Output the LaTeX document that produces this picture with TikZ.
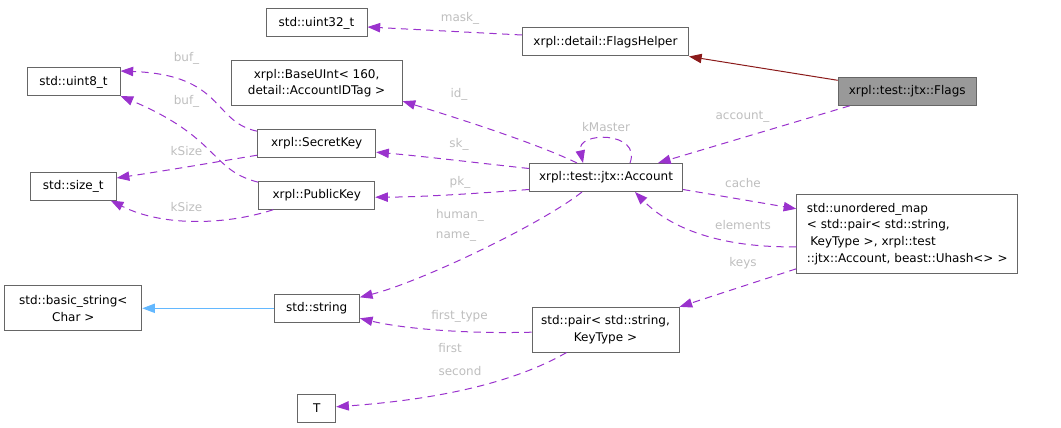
\documentclass[tikz,border=0pt]{standalone}
\usepackage{fontspec}
\setmainfont{DejaVu Sans}
\usetikzlibrary{arrows.meta,calc}
\definecolor{edgepurple}{HTML}{9A32CD}
\definecolor{inhred}{HTML}{8B1A1A}
\definecolor{inhblue}{HTML}{63B8FF}
\definecolor{boxgray}{HTML}{666666}
\definecolor{lblgray}{HTML}{BEBEBE}
\definecolor{flagsfill}{HTML}{999999}
\begin{document}
\begin{tikzpicture}[x=0.75pt,y=-0.75pt,
  box/.style={draw=boxgray, line width=0.75pt, fill=white, inner sep=0pt, minimum height=21pt, font=\fontsize{9}{12.5}\selectfont, align=center},
  lbl/.style={text=lblgray, inner sep=0pt, font=\fontsize{9}{12.5}\selectfont},
  uses/.style={draw=edgepurple, line width=0.75pt, dash pattern=on 5.5pt off 4pt, -{Triangle[length=9.5pt,width=7pt]}},
  inhr/.style={draw=inhred, line width=0.75pt, -{Triangle[length=9.5pt,width=7pt]}},
  inhb/.style={draw=inhblue, line width=0.75pt, -{Triangle[length=9.5pt,width=7pt]}},
]
\useasboundingbox (0,0) rectangle (1061,428);

% nodes
\node[box, minimum width=75.75pt] (uint32) at (316.5,23) {std::uint32\_t};
\node[box, minimum width=124.5pt] (fh) at (605.5,42) {xrpl::detail::FlagsHelper};
\node[box, minimum width=103.5pt, fill=flagsfill] (flags) at (907.2,91.3) {xrpl::test::jtx::Flags};
\node[box, minimum width=69.75pt] (uint8) at (73.5,82) {std::uint8\_t};
\node[box, minimum width=128.25pt, minimum height=33.75pt] (baseuint) at (316.6,83.2) {xrpl::BaseUInt< 160,\\ detail::AccountIDTag >};
\node[box, minimum width=88.5pt] (sk) at (316.7,143.2) {xrpl::SecretKey};
\node[box, minimum width=64.5pt] (sizet) at (73.2,186) {std::size\_t};
\node[box, minimum width=87pt] (pk) at (316.7,195.2) {xrpl::PublicKey};
\node[box, minimum width=114.75pt] (acct) at (606,177.5) {xrpl::test::jtx::Account};
\node[box, minimum width=165.75pt, minimum height=59.25pt, align=left, text width=150.75pt] (umap) at (907.3,233.8) {std::unordered\_map\\< std::pair< std::string,\\\hspace*{0.3em}KeyType >, xrpl::test\\::jtx::Account, beast::Uhash<> >};
\node[box, minimum width=102.75pt, minimum height=33.5pt] (bstr) at (73.3,308.3) {std::basic\_string<\\Char >};
\node[box, minimum width=64pt] (str) at (316.7,308.3) {std::string};
\node[box, minimum width=110.25pt, minimum height=33.5pt] (pair) at (605.5,329.7) {std::pair< std::string,\\KeyType >};
\node[box, minimum width=28.5pt] (T) at (316.7,408.3) {T};

% edges
\draw[uses] ($(fh.west)+(0,-7)$) -- ($(uint32.east)+(0,4)$);
\draw[inhr] ($(flags.west)+(0,-11)$) -- (fh.south east);
\draw[uses] ($(flags.south west)+(12,0)$) -- ($(acct.north)+(52,0)$);
\draw[uses] ($(acct.north)+(24,0)$) .. controls ($(acct.north)+(36,-32)$) and ($(acct.north)+(-30,-32)$) .. ($(acct.north)+(-23,0)$);
\draw[uses] ($(acct.north)+(-29,0)$) .. controls (540,145) and (470,122) .. ($(baseuint.east)+(0,18)$);
\draw[uses] ($(acct.west)+(0,-9)$) .. controls (470,162) and (420,156) .. ($(sk.east)+(0,9)$);
\draw[uses] ($(acct.west)+(0,12)$) .. controls (470,194) and (420,197) .. ($(pk.east)+(0,2)$);
\draw[uses] ($(acct.south)+(-24,0)$) .. controls (540,225) and (420,282) .. ($(str.east)+(0,-11)$);
\draw[uses] ($(acct.east)+(0,12)$) -- ($(umap.west)+(0,-25)$);
\draw[uses] ($(umap.west)+(0,13)$) .. controls (720,248) and (670,228) .. ($(acct.south)+(29,0)$);
\draw[uses] ($(umap.west)+(0,35)$) -- (pair.north east);
\draw[uses] ($(pair.west)+(0,2.5)$) .. controls (460,334) and (400,328) .. ($(str.east)+(0,10)$);
\draw[uses] ($(pair.south west)+(35,0)$) .. controls (510,385) and (430,400) .. ($(T.east)+(0,-1.5)$);
\draw[uses] ($(sk.west)+(0,-12)$) .. controls (212,122) and (225,75) .. ($(uint8.east)+(0,-11)$);
\draw[uses] ($(pk.west)+(0,-13)$) .. controls (210,170) and (220,138) .. ($(uint8.east)+(0,14)$);
\draw[uses] ($(sk.west)+(0,12)$) .. controls (210,163) and (170,170) .. ($(sizet.east)+(0,-8)$);
\draw[uses] ($(pk.south west)+(15,0)$) .. controls (230,224) and (165,228) .. ($(sizet.south east)+(-6,0)$);
\draw[inhb] (str.west) -- (bstr.east);

% labels
\node[lbl] (l_mask) at (460,18) {mask\_};
\node[lbl] (l_account) at (742.5,117) {account\_};
\node[lbl] (l_kmaster) at (606,127.5) {kMaster};
\node[lbl] (l_id) at (459,94) {id\_};
\node[lbl] (l_sk) at (459,144) {sk\_};
\node[lbl] (l_pk) at (460,182) {pk\_};
\node[lbl] (l_human) at (460,215) {human\_};
\node[lbl] (l_name) at (456,237) {name\_};
\node[lbl] (l_cache) at (743,183) {cache};
\node[lbl] (l_elements) at (743,225) {elements};
\node[lbl] (l_keys) at (743,263) {keys};
\node[lbl] (l_firsttype) at (459.5,316) {first\_type};
\node[lbl] (l_first) at (450,348) {first};
\node[lbl] (l_second) at (460,371) {second};
\node[lbl] (l_buf1) at (186.5,58) {buf\_};
\node[lbl] (l_buf2) at (186.5,101.5) {buf\_};
\node[lbl] (l_ksize1) at (186.5,151) {kSize};
\node[lbl] (l_ksize2) at (186.5,207) {kSize};
\end{tikzpicture}
\end{document}
